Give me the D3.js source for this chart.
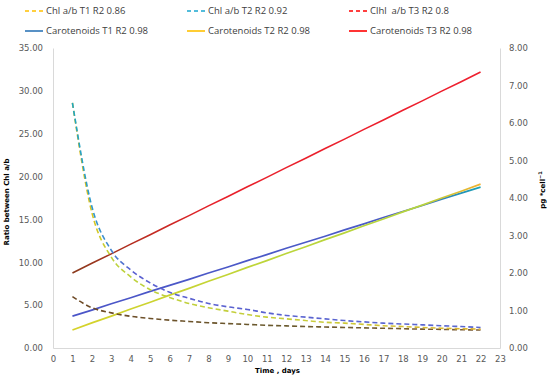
<!DOCTYPE html>
<html>
<head>
<meta charset="utf-8">
<script src="https://cdn.jsdelivr.net/npm/d3@7"></script>
<style>
  body { margin: 0; background: #fff; }
  svg text { font-family: "DejaVu Sans", sans-serif; }
</style>
</head>
<body>
<div id="chart"></div>
<script>
const days = d3.range(1, 23);

// Chl a/b ratio (left axis)
const chlT1 = [28.6, 15.8, 10.6, 8.3, 6.8, 5.9, 5.2, 4.7, 4.3, 3.9, 3.6, 3.4, 3.2, 3.0, 2.9, 2.75, 2.6, 2.5, 2.4, 2.3, 2.25, 2.2];
const chlT2 = [28.6, 16.5, 11.4, 9.1, 7.6, 6.5, 5.8, 5.2, 4.8, 4.5, 4.1, 3.8, 3.6, 3.4, 3.2, 3.05, 2.9, 2.8, 2.7, 2.6, 2.5, 2.4];
const chlT3 = [6.0, 4.7, 4.1, 3.7, 3.45, 3.25, 3.1, 2.95, 2.85, 2.75, 2.65, 2.58, 2.5, 2.45, 2.4, 2.35, 2.3, 2.25, 2.2, 2.17, 2.13, 2.1];

// Carotenoids, pg*cell-1 (right axis)
const carT1 = [0.85, 1.01, 1.18, 1.34, 1.51, 1.67, 1.83, 2.00, 2.16, 2.33, 2.49, 2.66, 2.82, 2.98, 3.15, 3.31, 3.48, 3.64, 3.80, 3.97, 4.13, 4.29];
const carT2 = [0.48, 0.67, 0.85, 1.04, 1.22, 1.41, 1.59, 1.78, 1.96, 2.15, 2.33, 2.52, 2.70, 2.89, 3.07, 3.26, 3.44, 3.63, 3.81, 4.00, 4.18, 4.37];
const carT3 = [2.00, 2.26, 2.51, 2.77, 3.02, 3.28, 3.53, 3.79, 4.04, 4.30, 4.55, 4.81, 5.06, 5.32, 5.57, 5.83, 6.08, 6.34, 6.59, 6.85, 7.10, 7.36];

const xTicks = d3.range(0, 24);
const leftTicks = [0, 5, 10, 15, 20, 25, 30, 35];
const rightTicks = [0, 1, 2, 3, 4, 5, 6, 7, 8];

const width = 550, height = 379;
const margin = {top: 48, right: 50, bottom: 31, left: 53};

const svg = d3.select("#chart").append("svg")
    .attr("width", width)
    .attr("height", height);

const x = d3.scaleLinear().domain([0, 23]).range([margin.left, width - margin.right]);
const yL = d3.scaleLinear().domain([0, 35]).range([height - margin.bottom, margin.top]);
const yR = d3.scaleLinear().domain([0, 8]).range([height - margin.bottom, margin.top]);

// colour drift along the lines, as in the picture
const grads = [
    {id: "gChl1", stops: [[0, "#f7b900"], [0.1, "#bcd23c"], [0.6, "#c9cc3a"], [1, "#e0b52e"]]},
    {id: "gChl2", stops: [[0, "#1aa8c8"], [0.08, "#3f8fcf"], [0.15, "#5a5fd0"], [1, "#5a68d0"]]},
    {id: "gChl3", stops: [[0, "#6e4a26"], [0.5, "#6a5a2e"], [1, "#7a5a30"]]},
    {id: "gCar1", stops: [[0, "#4b55c8"], [0.8, "#4b5cc6"], [1, "#1aa3b4"]]},
    {id: "gCar2", stops: [[0, "#d6d22a"], [0.5, "#bcd53a"], [0.85, "#b5d53e"], [1, "#f2b02e"]]},
    {id: "gCar3", stops: [[0, "#8a3a1c"], [0.2, "#c42a22"], [0.35, "#e8202a"], [1, "#ee1f2e"]]}
];
const defs = svg.append("defs");
grads.forEach(g => {
    const lg = defs.append("linearGradient")
        .attr("id", g.id)
        .attr("gradientUnits", "userSpaceOnUse")
        .attr("x1", x(1)).attr("x2", x(22))
        .attr("y1", 0).attr("y2", 0);
    g.stops.forEach(s => lg.append("stop").attr("offset", s[0]).attr("stop-color", s[1]));
});

// axes
const xAxis = svg.append("g")
    .attr("transform", `translate(0,${height - margin.bottom})`)
    .call(d3.axisBottom(x).tickValues(xTicks).tickSize(0).tickPadding(8));
const lAxis = svg.append("g")
    .attr("transform", `translate(${margin.left},0)`)
    .call(d3.axisLeft(yL).tickValues(leftTicks).tickSize(0).tickPadding(10).tickFormat(d3.format(".2f")));
const rAxis = svg.append("g")
    .attr("transform", `translate(${width - margin.right},0)`)
    .call(d3.axisRight(yR).tickValues(rightTicks).tickSize(0).tickPadding(9).tickFormat(d3.format(".2f")));

[xAxis, lAxis, rAxis].forEach(a => {
    a.select(".domain").attr("stroke", "#d9d9d9");
    a.selectAll("text").attr("fill", "#595959").style("font-size", "8.5px");
});

// series
const lineL = d3.line().x((d, i) => x(days[i])).y(d => yL(d)).curve(d3.curveMonotoneX);
const lineR = d3.line().x((d, i) => x(days[i])).y(d => yR(d));

const series = [
    {vals: carT1, line: lineR, grad: "gCar1", dash: null},
    {vals: carT2, line: lineR, grad: "gCar2", dash: null},
    {vals: carT3, line: lineR, grad: "gCar3", dash: null},
    {vals: chlT3, line: lineL, grad: "gChl3", dash: "5,3"},
    {vals: chlT1, line: lineL, grad: "gChl1", dash: "5,3"},
    {vals: chlT2, line: lineL, grad: "gChl2", dash: "5,3"}
];
series.forEach(s => {
    svg.append("path")
        .datum(s.vals)
        .attr("d", s.line)
        .attr("fill", "none")
        .attr("stroke", `url(#${s.grad})`)
        .attr("stroke-width", 1.6)
        .attr("stroke-dasharray", s.dash);
});

// axis titles
svg.append("text")
    .attr("x", (margin.left + width - margin.right) / 2 + 1)
    .attr("y", 373)
    .attr("text-anchor", "middle")
    .style("font-size", "7px").style("font-weight", "bold")
    .attr("fill", "#000")
    .text("Time , days");

svg.append("text")
    .attr("transform", `translate(9,202) rotate(-90)`)
    .attr("text-anchor", "middle")
    .style("font-size", "7px").style("font-weight", "bold")
    .attr("fill", "#000")
    .text("Ratio between Chl a/b");

const rt = svg.append("text")
    .attr("transform", `translate(545,190) rotate(-90)`)
    .attr("text-anchor", "middle")
    .style("font-size", "7px").style("font-weight", "bold")
    .attr("fill", "#000");
rt.append("tspan").text("pg *cell");
rt.append("tspan").attr("dy", -3).style("font-size", "5px").text("−1");

// legend
const legendNames = ["Chl a/b T1 R2 0.86", "Chl a/b T2 R2 0.92", "Clhl  a/b T3 R2 0.8",
                     "Carotenoids T1 R2 0.98", "Carotenoids T2 R2 0.98", "Carotenoids T3 R2 0.98"];
const legendColors = ["#ffc000", "#1aa6d0", "#ff0000", "#2e75b6", "#ffc000", "#ff0000"];
const legendCol = [25, 187, 349];
const legendRow = [11, 31];

const legend = svg.append("g").selectAll("g")
    .data(legendNames)
    .join("g")
    .attr("transform", (d, i) => `translate(${legendCol[i % 3]},${legendRow[Math.floor(i / 3)]})`);
legend.append("line")
    .attr("x1", 0).attr("x2", 18)
    .attr("stroke", (d, i) => legendColors[i])
    .attr("stroke-width", 1.6)
    .attr("stroke-dasharray", (d, i) => i < 3 ? "4,3" : null);
legend.append("text")
    .attr("x", 21)
    .attr("dy", "0.35em")
    .attr("fill", "#404040")
    .style("font-family", "'Open Sans', sans-serif")
    .style("font-size", "9.5px")
    .attr("xml:space", "preserve")
    .text(d => d);
</script>
</body>
</html>
